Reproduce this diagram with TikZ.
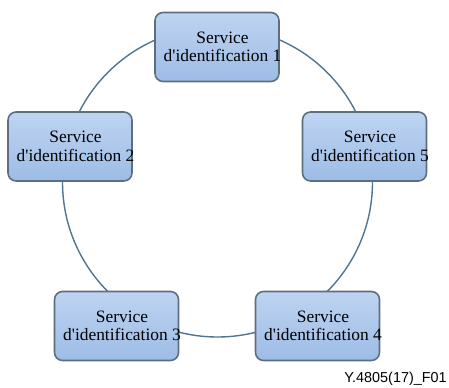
\documentclass[tikz,border=0pt]{standalone}
\usepackage{fontspec}
\setmainfont{Liberation Serif}
\newfontfamily\footfont{Liberation Sans}
\usepackage{xcolor}
\usetikzlibrary{positioning}

\definecolor{boxtop}{HTML}{BED4F1}
\definecolor{boxbot}{HTML}{9DBCE6}
\definecolor{boxline}{HTML}{5D6E7E}
\definecolor{ringline}{HTML}{4F7592}

\newcommand{\svcname}[1]{Service\\d\textquotesingle identification #1}

\tikzset{
  svcbox/.style={draw=boxline,line width=0.9pt,rounded corners=0.16cm,
    top color=boxtop,bottom color=boxbot,
    minimum width=2.48cm,minimum height=1.38cm,inner sep=0pt},
  svctext/.style={align=center,font=\fontsize{9.9}{10.6}\selectfont,xshift=0.11cm}
}

\begin{document}
\begin{tikzpicture}[x=0.02cm,y=0.02cm]
  \useasboundingbox (0,0) rectangle (449,388);
  % anneau
  \coordinate (ring) at (217.5,206);
  \draw[ringline,line width=0.8pt] (ring) circle[radius=155];
  % services
  \node[svcbox,label={[svctext]center:\svcname{1}}] (s1) at (217,341) {};
  \node[svcbox,label={[svctext]center:\svcname{2}}] (s2) at (70,241.5) {};
  \node[svcbox,label={[svctext]center:\svcname{3}}] (s3) at (116.5,62) {};
  \node[svcbox,label={[svctext]center:\svcname{4}}] (s4) at (317.5,62) {};
  \node[svcbox,label={[svctext]center:\svcname{5}}] (s5) at (364.5,241.5) {};
  % reference
  \node[anchor=base east,font=\footfont\fontsize{8.2}{9}\selectfont,inner sep=0pt] (ref) at (447,5) {Y.4805(17)\_F01};
\end{tikzpicture}
\end{document}
